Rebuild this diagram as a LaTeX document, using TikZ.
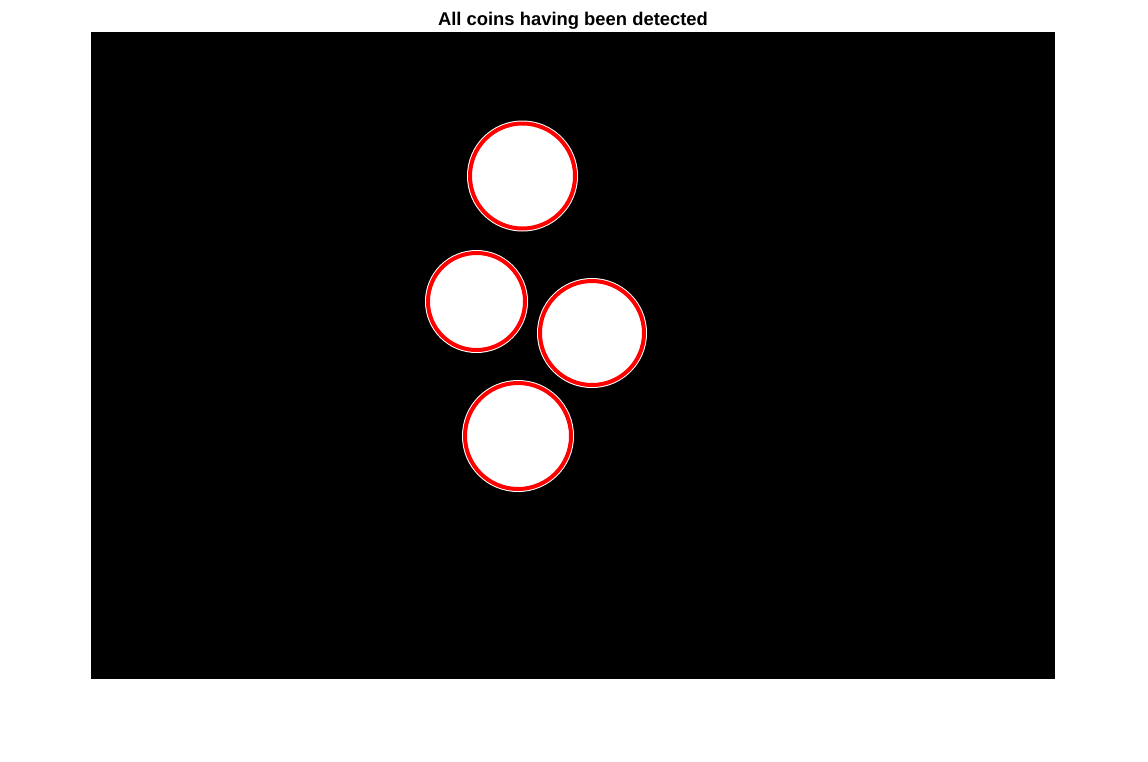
\documentclass[tikz,border=0pt]{standalone}
\usepackage{fontspec}
\setmainfont{Liberation Sans}
\usepackage{tikz}

\begin{document}
\begin{tikzpicture}[x=1pt,y=-1pt,
		coin/.style={circle, draw=red, line width=4pt, fill=white, inner sep=0pt, preaction={draw=white, line width=6pt}}]
			\useasboundingbox (0,0) rectangle (1148,761);
			\fill[white] (0,0) rectangle (1148,761);
			\fill[black] (91,32) rectangle (1055,679);
			\node[font=\bfseries\fontsize{18.4}{20}\selectfont, anchor=base] (title) at (573,25.5) {All coins having been detected};
			\node[coin, minimum size=105pt] (coinA) at (522.5,176) {};
			\node[coin, minimum size=97pt] (coinB) at (476.5,301.5) {};
			\node[coin, minimum size=104pt] (coinC) at (592,333) {};
			\node[coin, minimum size=106pt] (coinD) at (518,436) {};
		\end{tikzpicture}
\end{document}
